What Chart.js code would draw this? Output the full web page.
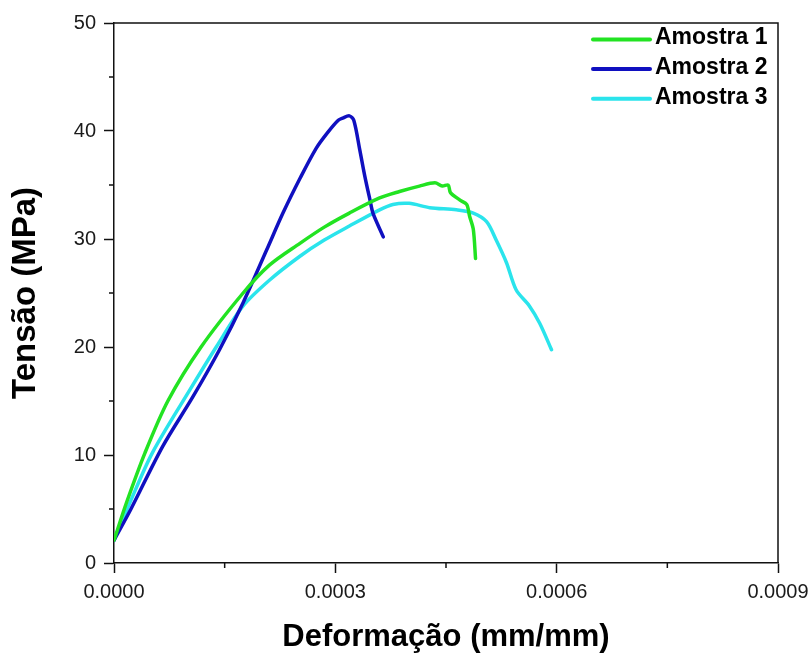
<!DOCTYPE html>
<html>
<head>
<meta charset="utf-8">
<script src="https://cdn.jsdelivr.net/npm/chart.js@4"></script>
<style>
  html, body { margin: 0; padding: 0; background: #fff; }
  canvas { display: block; }
</style>
</head>
<body>
<canvas id="chart" width="811" height="658"></canvas>
<script>
// strain (mm/mm) and stress (MPa)
const strain1 = [0, 1.7e-5, 4.2e-5, 7.3e-5, 1.18e-4, 1.75e-4, 2.11e-4, 2.52e-4, 2.85e-4, 3.19e-4, 3.6e-4, 3.87e-4, 4.14e-4, 4.35e-4, 4.45e-4, 4.53e-4, 4.56e-4, 4.69e-4, 4.78e-4, 4.82e-4, 4.87e-4, 4.90e-4];
const stress1 = [2.1, 5.6, 10.2, 15.0, 20.0, 25.0, 27.6, 29.6, 31.1, 32.4, 33.8, 34.4, 34.9, 35.2, 34.9, 35.0, 34.3, 33.6, 33.2, 32.1, 30.9, 28.2];

const strain2 = [0, 2.3e-5, 6.6e-5, 1.07e-4, 1.43e-4, 1.75e-4, 2.07e-4, 2.29e-4, 2.52e-4, 2.74e-4, 2.9e-4, 3.04e-4, 3.10e-4, 3.19e-4, 3.25e-4, 3.33e-4, 3.40e-4, 3.47e-4, 3.51e-4, 3.65e-4];
const stress2 = [2.1, 5.0, 10.8, 15.4, 19.75, 24.1, 29.0, 32.4, 35.6, 38.4, 39.9, 41.0, 41.2, 41.4, 41.0, 38.3, 35.8, 33.6, 32.4, 30.2];

const strain3 = [0, 2.1e-5, 5.2e-5, 1.03e-4, 1.39e-4, 1.75e-4, 2.11e-4, 2.52e-4, 2.85e-4, 3.19e-4, 3.6e-4, 3.78e-4, 4.0e-4, 4.28e-4, 4.64e-4, 4.87e-4, 5.05e-4, 5.18e-4, 5.32e-4, 5.45e-4, 5.63e-4, 5.77e-4, 5.93e-4];
const stress3 = [2.1, 5.5, 10.2, 16.05, 20.05, 23.8, 26.2, 28.4, 29.9, 31.2, 32.7, 33.2, 33.3, 32.9, 32.7, 32.4, 31.6, 29.9, 27.8, 25.3, 23.8, 22.2, 19.75];

const labels = ['Amostra 1', 'Amostra 2', 'Amostra 3'];
const colors = ['#22e322', '#1010c0', '#2ae4ec'];

const xTicks = [0, 0.0003, 0.0006, 0.0009];
const xMinor = [0.00015, 0.00045, 0.00075];
const yTicks = [0, 10, 20, 30, 40, 50];
const yMinor = [5, 15, 25, 35, 45];

function pts(xs, ys) {
  return xs.map((x, i) => ({ x: x, y: ys[i] }));
}

// box around the plot + short minor ticks
const framePlugin = {
  id: 'frame',
  afterDraw(chart) {
    const ctx = chart.ctx;
    const a = chart.chartArea;
    const xs = chart.scales.x, ys = chart.scales.y;
    ctx.save();
    ctx.strokeStyle = '#111';
    ctx.lineWidth = 1.5;
    ctx.beginPath();
    ctx.moveTo(a.left, a.top);
    ctx.lineTo(a.right, a.top);
    ctx.lineTo(a.right, a.bottom);
    xMinor.forEach(v => {
      const px = xs.getPixelForValue(v);
      ctx.moveTo(px, a.bottom);
      ctx.lineTo(px, a.bottom + 5);
    });
    yMinor.forEach(v => {
      const py = ys.getPixelForValue(v);
      ctx.moveTo(a.left, py);
      ctx.lineTo(a.left - 5, py);
    });
    ctx.stroke();
    ctx.restore();
  }
};

// legend in the upper right corner
const legendPlugin = {
  id: 'cornerLegend',
  afterDraw(chart) {
    const ctx = chart.ctx;
    ctx.save();
    ctx.font = 'bold 23px "Liberation Sans", Arial, sans-serif';
    ctx.textBaseline = 'middle';
    ctx.fillStyle = '#000';
    chart.data.datasets.forEach((ds, i) => {
      const y = 39.5 + i * 29.6;
      ctx.strokeStyle = ds.borderColor;
      ctx.lineWidth = 4;
      ctx.lineCap = 'round';
      ctx.beginPath();
      ctx.moveTo(593, y);
      ctx.lineTo(650, y);
      ctx.stroke();
      ctx.fillText(ds.label, 655, y - 1.5);
    });
    ctx.restore();
  }
};

const tickFont = { family: '"Liberation Sans", Arial, sans-serif', size: 20 };
const titleFont = { family: '"Liberation Sans", Arial, sans-serif', size: 31, weight: 'bold', lineHeight: 1 };

new Chart(document.getElementById('chart'), {
  type: 'line',
  data: {
    datasets: [
      { label: labels[0], data: pts(strain1, stress1), borderColor: colors[0] },
      { label: labels[1], data: pts(strain2, stress2), borderColor: colors[1] },
      { label: labels[2], data: pts(strain3, stress3), borderColor: colors[2] }
    ]
  },
  options: {
    responsive: false,
    animation: false,
    devicePixelRatio: 1,
    layout: { padding: { top: 23, right: 33, left: 0, bottom: 0 } },
    elements: {
      line: { borderWidth: 3.5, tension: 0.3, fill: false, borderCapStyle: 'round', borderJoinStyle: 'round' },
      point: { radius: 0 }
    },
    plugins: { legend: { display: false }, tooltip: { enabled: false } },
    scales: {
      x: {
        type: 'linear',
        min: 0,
        max: 0.0009,
        afterBuildTicks: s => { s.ticks = xTicks.map(v => ({ value: v })); },
        afterFit: s => { s.height = 95; s.paddingLeft = 0; s.paddingRight = 0; },
        ticks: {
          font: tickFont,
          color: '#1a1a1a',
          padding: 7,
          maxRotation: 0,
          callback: v => v.toFixed(4)
        },
        grid: { drawOnChartArea: false, drawTicks: true, tickLength: 10, tickColor: '#111', tickWidth: 1.5 },
        border: { display: true, color: '#111', width: 1.5 },
        title: { display: true, text: 'Deformação (mm/mm)', color: '#000', font: titleFont, padding: { top: 0, bottom: 5 } }
      },
      y: {
        type: 'linear',
        min: 0,
        max: 50,
        afterBuildTicks: s => { s.ticks = yTicks.map(v => ({ value: v })); },
        afterFit: s => { s.width = 114; s.paddingTop = 0; s.paddingBottom = 0; },
        ticks: {
          font: tickFont,
          color: '#1a1a1a',
          padding: 8,
          callback: v => String(v)
        },
        grid: { drawOnChartArea: false, drawTicks: true, tickLength: 10, tickColor: '#111', tickWidth: 1.5 },
        border: { display: true, color: '#111', width: 1.5 },
        title: { display: true, text: 'Tensão (MPa)', color: '#000', font: Object.assign({}, titleFont, { size: 33 }), padding: { top: 9, bottom: 0 } }
      }
    }
  },
  plugins: [framePlugin, legendPlugin]
});
</script>
</body>
</html>
